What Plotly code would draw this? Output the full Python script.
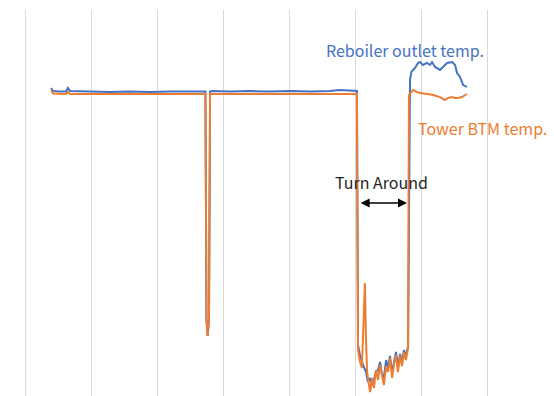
import plotly.graph_objects as go

# Time (hours) and temperature readings
reboiler_t = [9.5, 10.2, 12.7, 14.9, 15.6, 16.4, 23.6, 30.9, 38.2, 45.5, 52.7, 60.0, 63.6, 65.6,
              66.0, 66.4, 66.9, 67.3, 68.0, 74.5, 81.8, 89.1, 96.4, 103.6, 110.9, 114.5, 118.2,
              120.4, 120.7, 121.1, 121.8, 122.9, 124.0, 124.7, 125.5, 126.2, 126.9, 127.6, 128.4,
              129.1, 129.8, 130.5, 131.3, 132.0, 132.7, 133.5, 134.2, 134.9, 135.6, 136.4, 137.1,
              137.8, 138.5, 139.3, 140.0, 140.5, 141.1, 141.8, 142.9, 143.6, 144.7, 146.2, 147.3,
              148.0, 149.1, 150.9, 152.0, 153.5, 155.3, 156.4, 157.1, 158.2, 159.3, 160.7]
reboiler_v = [199.5, 197.5, 197.2, 197.2, 199.5, 197.5, 197.2, 196.9, 197.2, 196.9, 197.2, 196.9, 197.2, 197.2,
              49.2, 38.9, 49.2, 197.2, 197.5, 197.2, 197.5, 197.2, 197.5, 197.2, 197.5, 198.2, 197.8,
              197.8, 197.5, 33.0, 26.6, 20.1, 15.5, 9.1, 11.7, 7.1, 10.4, 15.5, 16.8,
              22.0, 14.2, 11.7, 23.3, 18.1, 25.9, 15.5, 23.3, 28.5, 19.4, 27.2, 22.0,
              29.8, 25.9, 32.4, 204.7, 209.9, 211.2, 212.4, 215.7, 216.3, 214.4, 215.7, 214.4,
              216.3, 213.1, 211.2, 213.1, 215.7, 216.3, 214.4, 209.2, 206.6, 201.4, 200.2]

tower_t = [9.5, 10.2, 14.9, 15.6, 16.4, 23.6, 38.2, 52.7, 63.6, 65.6, 66.0, 66.4, 66.9, 67.3, 68.0,
           81.8, 96.4, 110.9, 118.2, 120.7, 121.1, 121.8, 122.5, 123.3, 123.6, 124.0, 124.4, 125.1,
           125.5, 126.2, 126.9, 127.6, 128.4, 129.1, 129.8, 130.5, 131.3, 132.0, 132.7, 133.5, 134.2,
           134.9, 135.6, 136.4, 137.1, 137.8, 138.5, 139.3, 139.6, 140.0, 141.1, 142.5, 143.6, 146.2,
           148.4, 150.9, 152.7, 153.8, 155.3, 156.4, 157.5, 158.9, 160.0, 160.7]
tower_v = [198.2, 195.9, 195.6, 196.9, 195.6, 195.6, 195.6, 195.6, 195.6, 195.6, 49.2, 38.9, 49.2, 195.6, 195.6,
           195.6, 195.6, 195.6, 195.6, 195.6, 29.8, 22.0, 18.1, 62.2, 73.2, 36.3, 15.5, 7.1,
           2.6, 11.7, 5.2, 16.8, 10.4, 20.1, 13.0, 7.1, 19.4, 15.5, 24.6, 11.7, 20.7,
           26.6, 15.5, 25.9, 19.4, 28.5, 23.3, 31.1, 194.9, 195.6, 198.2, 196.9, 196.2, 195.6,
           194.9, 193.6, 191.7, 193.0, 193.6, 193.0, 193.0, 193.6, 194.9, 195.6]

BLUE = "#4472C4"
ORANGE = "#ED7D31"
FONT = "Noto Sans CJK JP"

fig = go.Figure()
fig.add_trace(go.Scatter(x=reboiler_t, y=reboiler_v, mode="lines",
                         line=dict(color=BLUE, width=2), name="Reboiler outlet temp."))
fig.add_trace(go.Scatter(x=tower_t, y=tower_v, mode="lines",
                         line=dict(color=ORANGE, width=2), name="Tower BTM temp."))

fig.add_annotation(x=138.2, y=224.1, text="Reboiler outlet temp.", showarrow=False,
                   font=dict(family=FONT, size=16, color=BLUE))
fig.add_annotation(x=166.2, y=173.6, text="Tower BTM temp.", showarrow=False,
                   font=dict(family=FONT, size=16, color=ORANGE))
fig.add_annotation(x=129.8, y=138.6, text="Turn Around", showarrow=False,
                   font=dict(family=FONT, size=16, color="#262626"))
fig.add_annotation(x=138.9, y=125.0, ax=121.5, ay=125.0, xref="x", yref="y",
                   axref="x", ayref="y", text="", showarrow=True,
                   arrowhead=2, arrowside="end+start", arrowsize=1.2,
                   arrowwidth=1.5, arrowcolor="#000000")

fig.update_layout(
    width=554, height=396,
    margin=dict(l=12, r=8, t=2, b=8),
    paper_bgcolor="white", plot_bgcolor="white",
    showlegend=False,
    font=dict(family=FONT),
    xaxis=dict(range=[-1.82, 192.36], showgrid=True, gridcolor="#D9D9D9", gridwidth=1,
               tick0=0, dtick=24, showticklabels=False, zeroline=False, showline=False,
               ticks=""),
    yaxis=dict(range=[0, 250], showgrid=False, showticklabels=False, zeroline=False,
               showline=False, ticks=""),
)

fig.write_html("out.html")
